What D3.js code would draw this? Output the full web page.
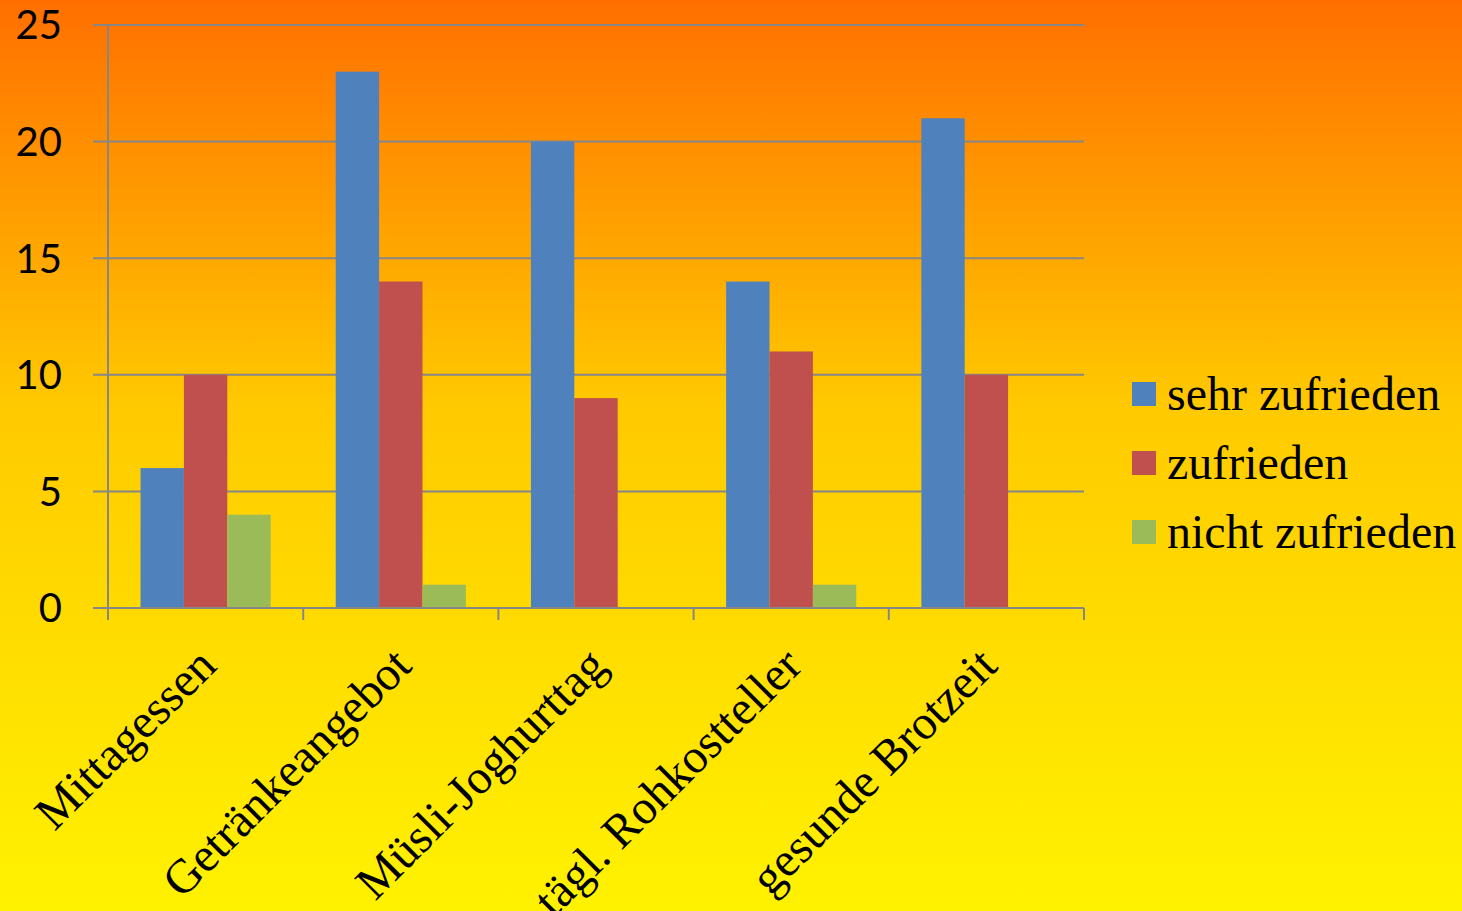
<!DOCTYPE html>
<html><head><meta charset="utf-8">
<script src="https://cdn.jsdelivr.net/npm/d3@7"></script>
<style>html,body{margin:0;padding:0;overflow:hidden;}</style>
</head><body>
<script>
const categories = ["Mittagessen","Getränkeangebot","Müsli-Joghurttag","tägl. Rohkostteller","gesunde Brotzeit"];
const seriesNames = ["sehr zufrieden","zufrieden","nicht zufrieden"];
const sehrZufrieden = [6,23,20,14,21];
const zufrieden = [10,14,9,11,10];
const nichtZufrieden = [4,1,0,1,0];
const yTicks = [0,5,10,15,20,25];
const colors = ["#4F81BD","#C0504D","#9BBB59"];
const seriesValues = [sehrZufrieden, zufrieden, nichtZufrieden];

(function(){
const W = 1462, H = 911;
const svg = d3.select("body").append("svg").attr("width",W).attr("height",H);
const defs = svg.append("defs");
const grad = defs.append("linearGradient").attr("id","bg").attr("x1",0).attr("y1",0).attr("x2",0).attr("y2",1);
grad.append("stop").attr("offset","0").attr("stop-color","#FF6F00");
grad.append("stop").attr("offset","0.45").attr("stop-color","#FFCA00");
grad.append("stop").attr("offset","1").attr("stop-color","#FFF200");
svg.append("rect").attr("width",W).attr("height",H).attr("fill","url(#bg)");

const pLeft = 108, pRight = 1084, pTop = 25, pBottom = 608;
const x0 = d3.scaleBand().domain(categories).range([pLeft,pRight]).padding(0);
const x1 = d3.scaleBand().domain(seriesNames).range([0,x0.bandwidth()]).paddingInner(0).paddingOuter(0.75);
const y = d3.scaleLinear().domain([0,25]).range([pBottom,pTop]);
const gridColor = "#868686";

svg.append("g").selectAll("line").data(yTicks).join("line")
  .attr("x1",pLeft-15).attr("x2",pRight)
  .attr("y1",d=>y(d)).attr("y2",d=>y(d))
  .attr("stroke",gridColor).attr("stroke-width",2);

svg.append("line").attr("x1",pLeft).attr("x2",pLeft).attr("y1",pTop).attr("y2",pBottom+12)
  .attr("stroke",gridColor).attr("stroke-width",2);

const bounds = categories.map(c=>x0(c)).concat([pRight]);
svg.append("g").selectAll("line").data(bounds.slice(1)).join("line")
  .attr("x1",d=>d).attr("x2",d=>d).attr("y1",pBottom).attr("y2",pBottom+12)
  .attr("stroke",gridColor).attr("stroke-width",2);

const bars = svg.append("g");
seriesNames.forEach((s,si)=>{
  bars.append("g").selectAll("rect").data(categories.map((c,i)=>({c,v:seriesValues[si][i]})).filter(d=>d.v>0))
    .join("rect")
    .attr("x",d=>x0(d.c)+x1(s))
    .attr("width",x1.bandwidth())
    .attr("y",d=>y(d.v))
    .attr("height",d=>y(0)-y(d.v))
    .attr("fill",colors[si]);
});

svg.append("line").attr("x1",pLeft-15).attr("x2",pRight).attr("y1",y(0)).attr("y2",y(0))
  .attr("stroke",gridColor).attr("stroke-width",2);

svg.append("g").selectAll("text").data(yTicks).join("text")
  .attr("x",62).attr("y",d=>y(d)).attr("dy","0.36em")
  .attr("text-anchor","end")
  .attr("font-family","Lato, 'Open Sans', sans-serif").attr("font-size",40)
  .attr("fill","#000").text(d=>d);

svg.append("g").selectAll("text").data(categories).join("text")
  .attr("transform",d=>`translate(${x0(d)+x0.bandwidth()/2+13},${668}) rotate(-45)`)
  .attr("text-anchor","end")
  .attr("font-family","'Liberation Serif', 'Times New Roman', serif").attr("font-size",48)
  .attr("fill","#000").text(d=>d);

const lg = svg.append("g");
seriesNames.forEach((s,i)=>{
  const yy = 382 + i*69;
  lg.append("rect").attr("x",1132).attr("y",yy).attr("width",24).attr("height",24).attr("fill",colors[i]);
  lg.append("text").attr("x",1167).attr("y",yy+28)
    .attr("font-family","'Liberation Serif', 'Times New Roman', serif").attr("font-size",48)
    .attr("fill","#000").text(s);
});
})();
</script>
</body></html>
